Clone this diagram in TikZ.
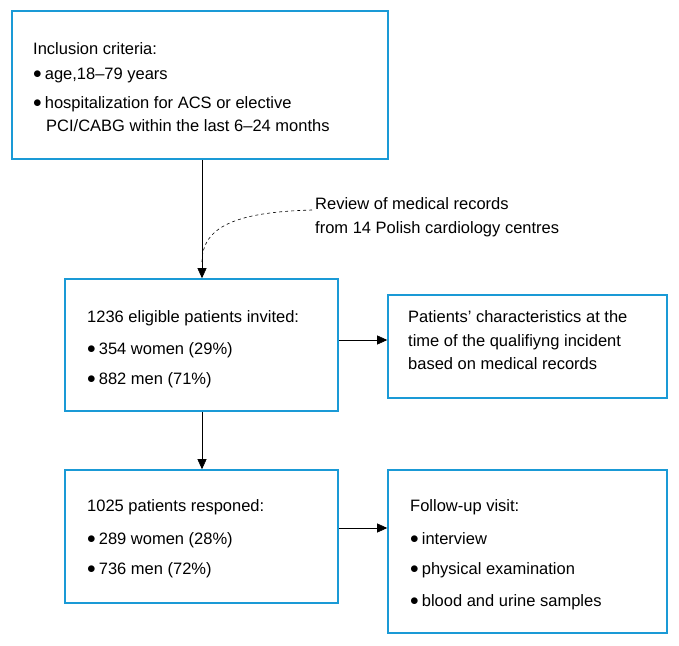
\documentclass[tikz,border=0pt]{standalone}
\usepackage{fontspec}
\setmainfont{Liberation Sans}
\usetikzlibrary{arrows.meta}
\definecolor{bl}{HTML}{1A9AD6}
\newcommand{\bul}{\raisebox{0.5pt}{$\bullet$}\hspace{3pt}}
\begin{document}
\begin{tikzpicture}[x=1pt,y=-1pt,
 box/.style={draw=bl,line width=1.6pt,inner sep=0pt},
 t/.style={anchor=base west,inner sep=0pt,font=\fontsize{16.5}{18}\selectfont},
 arr/.style={-{Triangle[length=10pt,width=9pt]},line width=0.6pt}]
\fill[white] (0,0) rectangle (679,645);
\useasboundingbox (0,0) rectangle (679,645);
\node[box,minimum width=376pt,minimum height=148pt] (b1) at (200,85) {};
\node[box,minimum width=273pt,minimum height=132pt] (b2) at (201.5,345) {};
\node[box,minimum width=279pt,minimum height=103pt] (b3) at (527.5,346.5) {};
\node[box,minimum width=273pt,minimum height=133pt] (b4) at (201.5,536.5) {};
\node[box,minimum width=279pt,minimum height=163pt] (b5) at (527.5,551.5) {};
% box1
\node[t] (a1) at (33,54) {Inclusion criteria:};
\node[t] (a2) at (33,79) {\bul age,18--79 years};
\node[t] (a3) at (33,108) {\bul hospitalization for ACS or elective};
\node[t] (a4) at (46,131) {PCI/CABG within the last 6--24 months};
% review
\node[t] (r1) at (315,209) {Review of medical records};
\node[t] (r2) at (315,233) {from 14 Polish cardiology centres};
% box2
\node[t] (c1) at (87,322) {1236 eligible patients invited:};
\node[t] (c2) at (87,354) {\bul 354 women (29\%)};
\node[t] (c3) at (87,384) {\bul 882 men (71\%)};
% box3
\node[t] (d1) at (408,322) {Patients' characteristics at the};
\node[t] (d2) at (408,346) {time of the qualifiyng incident};
\node[t] (d3) at (408,369) {based on medical records};
% box4
\node[t] (e1) at (87,511) {1025 patients responed:};
\node[t] (e2) at (87,544) {\bul 289 women (28\%)};
\node[t] (e3) at (87,574) {\bul 736 men (72\%)};
% box5
\node[t] (f1) at (410,511) {Follow-up visit:};
\node[t] (f2) at (410,544) {\bul interview};
\node[t] (f3) at (410,574) {\bul physical examination};
\node[t] (f4) at (410,606) {\bul blood and urine samples};
% arrows
\draw[arr] (b1.south -| 202,0) -- (b2.north -| 202,0);
\draw[arr] (b2.south -| 202,0) -- (b4.north -| 202,0);
\draw[arr] (b2.east |- 0,340) -- (b3.west |- 0,340);
\draw[arr] (b4.east |- 0,528) -- (b5.west |- 0,528);
\coordinate (ds) at (312,210);
\coordinate (de) at (202,262);
\draw[dashed,line width=0.6pt] (ds) .. controls (240,212) and (202,225) .. (de);
\end{tikzpicture}
\end{document}
